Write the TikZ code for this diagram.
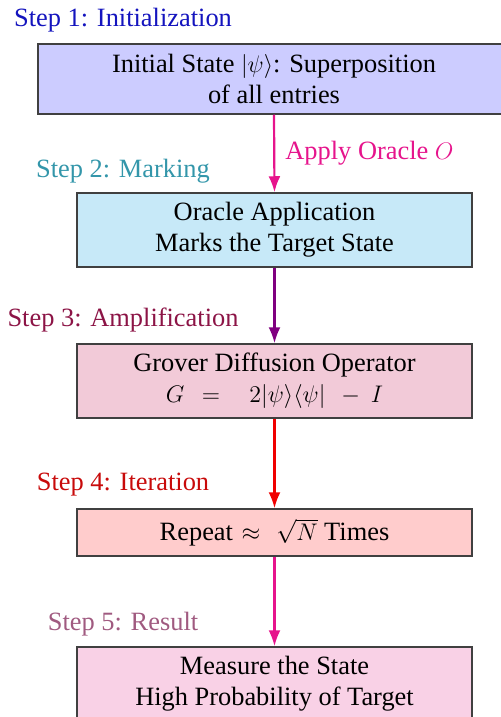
\documentclass[tikz,border=0pt]{standalone}
\usepackage{fontspec}
\setmainfont{Liberation Serif}
\usetikzlibrary{arrows.meta}
\definecolor{cA}{RGB}{20,20,190}
\definecolor{cB}{RGB}{51,150,170}
\definecolor{cC}{RGB}{140,20,70}
\definecolor{cD}{RGB}{200,10,10}
\definecolor{cE}{RGB}{160,90,128}
\definecolor{arMag}{RGB}{230,20,140}
\definecolor{arPur}{RGB}{128,0,128}
\definecolor{arRed}{RGB}{240,0,0}
\definecolor{fA}{RGB}{204,204,255}
\definecolor{fB}{RGB}{199,233,248}
\definecolor{fC}{RGB}{242,202,216}
\definecolor{fD}{RGB}{255,204,204}
\definecolor{fE}{RGB}{249,209,230}
\tikzset{
  stepbox/.style={draw=black!75, line width=0.75pt, inner sep=0pt, align=center,
    font=\fontsize{13.2}{15.6}\selectfont},
  steplabel/.style={anchor=base, inner sep=0pt, font=\fontsize{13.2}{15.6}\selectfont},
  arr/.style={line width=1.1pt, -{Latex[length=8pt,width=6pt]}}
}
\begin{document}
\begin{tikzpicture}[x=0.5pt,y=-0.5pt]
\useasboundingbox (0,0) rectangle (500,717);
\node[stepbox, fill=fA, minimum width=236pt, minimum height=35pt] (b1) at (274,79)
  {Initial State $|\psi\rangle$: Superposition\\of all entries};
\node[stepbox, fill=fB, minimum width=197.5pt, minimum height=37pt] (b2) at (274.5,230)
  {Oracle Application\\Marks the Target State};
\node[stepbox, fill=fC, minimum width=197.5pt, minimum height=37pt] (b3) at (274.5,381)
  {Grover Diffusion Operator\\$G\mskip8mu=\mskip17mu2|\psi\rangle\langle\psi|\mskip8mu-\mskip4mu I$};
\node[stepbox, fill=fD, minimum width=197.5pt, minimum height=23.5pt] (b4) at (274.5,532.5)
  {Repeat\hspace{1pt} $\approx$\hspace{8pt}$\sqrt{N}$ Times};
\node[stepbox, fill=fE, minimum width=197.5pt, minimum height=37pt] (b5) at (274.5,684)
  {Measure the State\\High Probability of Target};
\node[steplabel, text=cA] (l1) at (123,27) {Step 1: Initialization};
\node[steplabel, text=cB] (l2) at (123,177) {Step 2: Marking};
\node[steplabel, text=cC] (l3) at (123,326) {Step 3: Amplification};
\node[steplabel, text=cD] (l4) at (123,490) {Step 4: Iteration};
\node[steplabel, text=cE] (l5) at (123,630) {Step 5: Result};
\draw[arr, arMag] (b1.south) -- (b2.north);
\node[steplabel, anchor=base west, text=arMag] (ap) at (285,159) {Apply Oracle $O$};
\draw[arr, arPur] (b2.south) -- (b3.north);
\draw[arr, arRed] (b3.south) -- (b4.north);
\draw[arr, arMag] (b4.south) -- (b5.north);
\end{tikzpicture}
\end{document}
